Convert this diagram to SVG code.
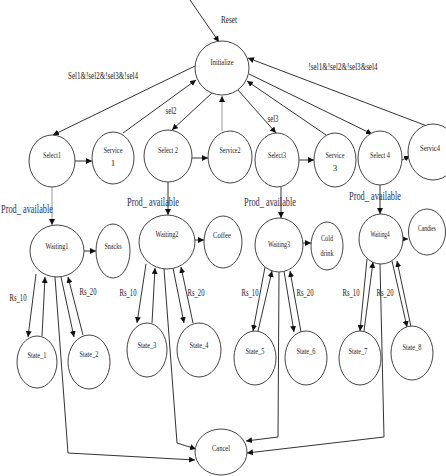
<svg xmlns="http://www.w3.org/2000/svg" width="446" height="476" viewBox="0 0 446 476">
<style>
.nd{fill:#fff;stroke:#444;stroke-width:1}
.t{font-family:"Liberation Serif",serif;font-size:9px;fill:#222;text-anchor:middle}
.el{font-family:"Liberation Serif",serif;font-size:10px;fill:#222;text-anchor:middle}
.pa{font-family:"Liberation Serif",serif;font-size:12px;fill:#2c2c54;text-anchor:middle}
.c{fill:none;stroke:#333;stroke-width:1;marker-end:url(#ah)}
.g{stroke:#999}
</style>
<defs>
<marker id="ah" markerUnits="userSpaceOnUse" markerWidth="6" markerHeight="6" refX="6" refY="3" orient="auto"><path d="M0,0 L6,3 L0,6 z" fill="#111"/></marker>
</defs>
<rect width="446" height="476" fill="#fff"/>
<g id="connectors">
<path class="c" d="M190,0 L219,42"/>
<path class="c" d="M195,66 L53,135"/>
<path class="c" d="M123,133 L196,80"/>
<path class="c" d="M212,93 L172,130"/>
<path class="c g" d="M222,131 L222,96"/>
<path class="c" d="M238,90 L276,133"/>
<path class="c" d="M326,135 L247,81"/>
<path class="c" d="M249,74 L372,134"/>
<path class="c" d="M427,126 L248,58"/>
<path class="c" d="M75,161 L92,161"/>
<path class="c" d="M192,158 L208,158"/>
<path class="c" d="M299,160 L314,160"/>
<path class="c" d="M402,160 L410,156"/>
<path class="c g" d="M52,187 L52,225"/>
<path class="c" d="M168,182 L168,215"/>
<path class="c" d="M281,187 L281,218"/>
<path class="c" d="M380,185 L380,214"/>
<path class="c" d="M84,251 L96,251"/>
<path class="c" d="M195,240 L204,240"/>
<path class="c" d="M303,243 L311,243"/>
<path class="c" d="M403,239 L408,239"/>
<path class="c" d="M36,274 L28,337"/>
<path class="c" d="M42,336 L45,277"/>
<path class="c" d="M61,277 L74,337"/>
<path class="c" d="M83,335 L68,277"/>
<path class="c" d="M55,277 L68,453 L195,460"/>
<path class="c" d="M146,264 L137,323"/>
<path class="c" d="M152,323 L155,268"/>
<path class="c" d="M173,268 L184,323"/>
<path class="c" d="M193,323 L181,267"/>
<path class="c" d="M164,269 L177,443 L196,449"/>
<path class="c" d="M265,267 L253,331"/>
<path class="c" d="M258,331 L272,271"/>
<path class="c" d="M284,271 L294,332"/>
<path class="c" d="M301,332 L290,271"/>
<path class="c" d="M279,272 L278,437 L246,441"/>
<path class="c" d="M367,259 L360,331"/>
<path class="c" d="M364,331 L373,262"/>
<path class="c" d="M392,261 L407,327"/>
<path class="c" d="M411,327 L397,261"/>
<path class="c" d="M380,264 L384,437 L247,453"/>
</g>
<g id="edge-labels">
<text class="el" x="229" y="23" textLength="16" lengthAdjust="spacingAndGlyphs">Reset</text>
<text class="el" x="103" y="79" textLength="70" lengthAdjust="spacingAndGlyphs">Sel1&amp;!sel2&amp;!sel3&amp;!sel4</text>
<text class="el" x="343" y="70" textLength="69" lengthAdjust="spacingAndGlyphs">!sel1&amp;!sel2&amp;!sel3&amp;sel4</text>
<text class="el" x="171" y="114" textLength="11" lengthAdjust="spacingAndGlyphs">sel2</text>
<text class="el" x="273" y="122" textLength="11" lengthAdjust="spacingAndGlyphs">sel3</text>
<text class="pa" x="27" y="213" textLength="52" lengthAdjust="spacingAndGlyphs">Prod_ available</text>
<text class="pa" x="153" y="206" textLength="52" lengthAdjust="spacingAndGlyphs">Prod_ available</text>
<text class="pa" x="270" y="206" textLength="52" lengthAdjust="spacingAndGlyphs">Prod_ available</text>
<text class="pa" x="375" y="200" textLength="52" lengthAdjust="spacingAndGlyphs">Prod_ available</text>
<text class="el" x="18" y="301" textLength="17" lengthAdjust="spacingAndGlyphs">Rs_10</text>
<text class="el" x="88" y="295" textLength="17" lengthAdjust="spacingAndGlyphs">Rs_20</text>
<text class="el" x="128" y="296" textLength="17" lengthAdjust="spacingAndGlyphs">Rs_10</text>
<text class="el" x="196" y="296" textLength="17" lengthAdjust="spacingAndGlyphs">Rs_20</text>
<text class="el" x="250" y="296" textLength="17" lengthAdjust="spacingAndGlyphs">Rs_10</text>
<text class="el" x="305" y="296" textLength="17" lengthAdjust="spacingAndGlyphs">Rs_20</text>
<text class="el" x="351" y="296" textLength="17" lengthAdjust="spacingAndGlyphs">Rs_10</text>
<text class="el" x="385" y="296" textLength="17" lengthAdjust="spacingAndGlyphs">Rs_20</text>
</g>
<g id="initialize"><ellipse class="nd" cx="222" cy="68" rx="27" ry="27"/><text class="t" x="222" y="65" textLength="23" lengthAdjust="spacingAndGlyphs">Initialize</text></g>
<g id="select1"><ellipse class="nd" cx="52" cy="161" rx="23" ry="26"/><text class="t" x="52" y="158" textLength="18" lengthAdjust="spacingAndGlyphs">Select1</text></g>
<g id="service1"><ellipse class="nd" cx="113" cy="158" rx="21" ry="26"/><text class="t" x="113" y="153" textLength="19" lengthAdjust="spacingAndGlyphs">Service</text><text class="t" x="113" y="166">1</text></g>
<g id="select2"><ellipse class="nd" cx="168" cy="156" rx="24" ry="26"/><text class="t" x="168" y="153" textLength="20" lengthAdjust="spacingAndGlyphs">Select 2</text></g>
<g id="service2"><ellipse class="nd" cx="230" cy="157" rx="22" ry="26"/><text class="t" x="230" y="153" textLength="21" lengthAdjust="spacingAndGlyphs">Service2</text></g>
<g id="select3"><ellipse class="nd" cx="277" cy="160" rx="22" ry="27"/><text class="t" x="277" y="158" textLength="18" lengthAdjust="spacingAndGlyphs">Select3</text></g>
<g id="service3"><ellipse class="nd" cx="335" cy="160" rx="21" ry="27"/><text class="t" x="335" y="158" textLength="19" lengthAdjust="spacingAndGlyphs">Service</text><text class="t" x="335" y="171">3</text></g>
<g id="select4"><ellipse class="nd" cx="380" cy="158" rx="22" ry="27"/><text class="t" x="380" y="158" textLength="20" lengthAdjust="spacingAndGlyphs">Select 4</text></g>
<g id="service4"><ellipse class="nd" cx="433" cy="152" rx="25" ry="28"/><text class="t" x="430" y="151" textLength="20" lengthAdjust="spacingAndGlyphs">Servic4</text></g>
<g id="waiting1"><ellipse class="nd" cx="57" cy="251" rx="27" ry="26"/><text class="t" x="57" y="249" textLength="23" lengthAdjust="spacingAndGlyphs">Waiting1</text></g>
<g id="snacks"><ellipse class="nd" cx="113" cy="251" rx="17" ry="27"/><text class="t" x="113" y="249" textLength="17" lengthAdjust="spacingAndGlyphs">Snacks</text></g>
<g id="waiting2"><ellipse class="nd" cx="167" cy="242" rx="28" ry="27"/><text class="t" x="167" y="237" textLength="23" lengthAdjust="spacingAndGlyphs">Waiting2</text></g>
<g id="coffee"><ellipse class="nd" cx="223" cy="242" rx="19" ry="26"/><text class="t" x="222" y="238" textLength="18" lengthAdjust="spacingAndGlyphs">Coffee</text></g>
<g id="waiting3"><ellipse class="nd" cx="279" cy="245" rx="24" ry="27"/><text class="t" x="279" y="247" textLength="22" lengthAdjust="spacingAndGlyphs">Waiting3</text></g>
<g id="colddrink"><ellipse class="nd" cx="327" cy="246" rx="16" ry="24"/><text class="t" x="327" y="241" textLength="12" lengthAdjust="spacingAndGlyphs">Cold</text><text class="t" x="327" y="256" textLength="13" lengthAdjust="spacingAndGlyphs">drink</text></g>
<g id="waiting4"><ellipse class="nd" cx="381" cy="239" rx="22" ry="25"/><text class="t" x="380" y="237" textLength="19" lengthAdjust="spacingAndGlyphs">Waiting4</text></g>
<g id="candies"><ellipse class="nd" cx="427" cy="232" rx="18.5" ry="23"/><text class="t" x="427" y="231" textLength="18" lengthAdjust="spacingAndGlyphs">Candies</text></g>
<g id="state1"><ellipse class="nd" cx="37" cy="362" rx="20" ry="26"/><text class="t" x="37" y="358" textLength="19" lengthAdjust="spacingAndGlyphs">State_1</text></g>
<g id="state2"><ellipse class="nd" cx="89" cy="362" rx="21" ry="27"/><text class="t" x="89" y="357" textLength="19" lengthAdjust="spacingAndGlyphs">State_2</text></g>
<g id="state3"><ellipse class="nd" cx="147" cy="350" rx="20" ry="27"/><text class="t" x="147" y="348" textLength="19" lengthAdjust="spacingAndGlyphs">State_3</text></g>
<g id="state4"><ellipse class="nd" cx="199" cy="350" rx="22" ry="27"/><text class="t" x="199" y="348" textLength="19" lengthAdjust="spacingAndGlyphs">State_4</text></g>
<g id="state5"><ellipse class="nd" cx="255" cy="358" rx="21" ry="27"/><text class="t" x="255" y="354" textLength="19" lengthAdjust="spacingAndGlyphs">State_5</text></g>
<g id="state6"><ellipse class="nd" cx="306" cy="358" rx="21" ry="27"/><text class="t" x="306" y="354" textLength="19" lengthAdjust="spacingAndGlyphs">State_6</text></g>
<g id="state7"><ellipse class="nd" cx="360" cy="358" rx="21" ry="27"/><text class="t" x="358" y="354" textLength="19" lengthAdjust="spacingAndGlyphs">State_7</text></g>
<g id="state8"><ellipse class="nd" cx="412" cy="353" rx="21" ry="27"/><text class="t" x="412" y="350" textLength="19" lengthAdjust="spacingAndGlyphs">State_8</text></g>
<g id="cancel"><ellipse class="nd" cx="221" cy="452" rx="26" ry="23"/><text class="t" x="221" y="451" textLength="18" lengthAdjust="spacingAndGlyphs">Cancel</text></g>
</svg>
